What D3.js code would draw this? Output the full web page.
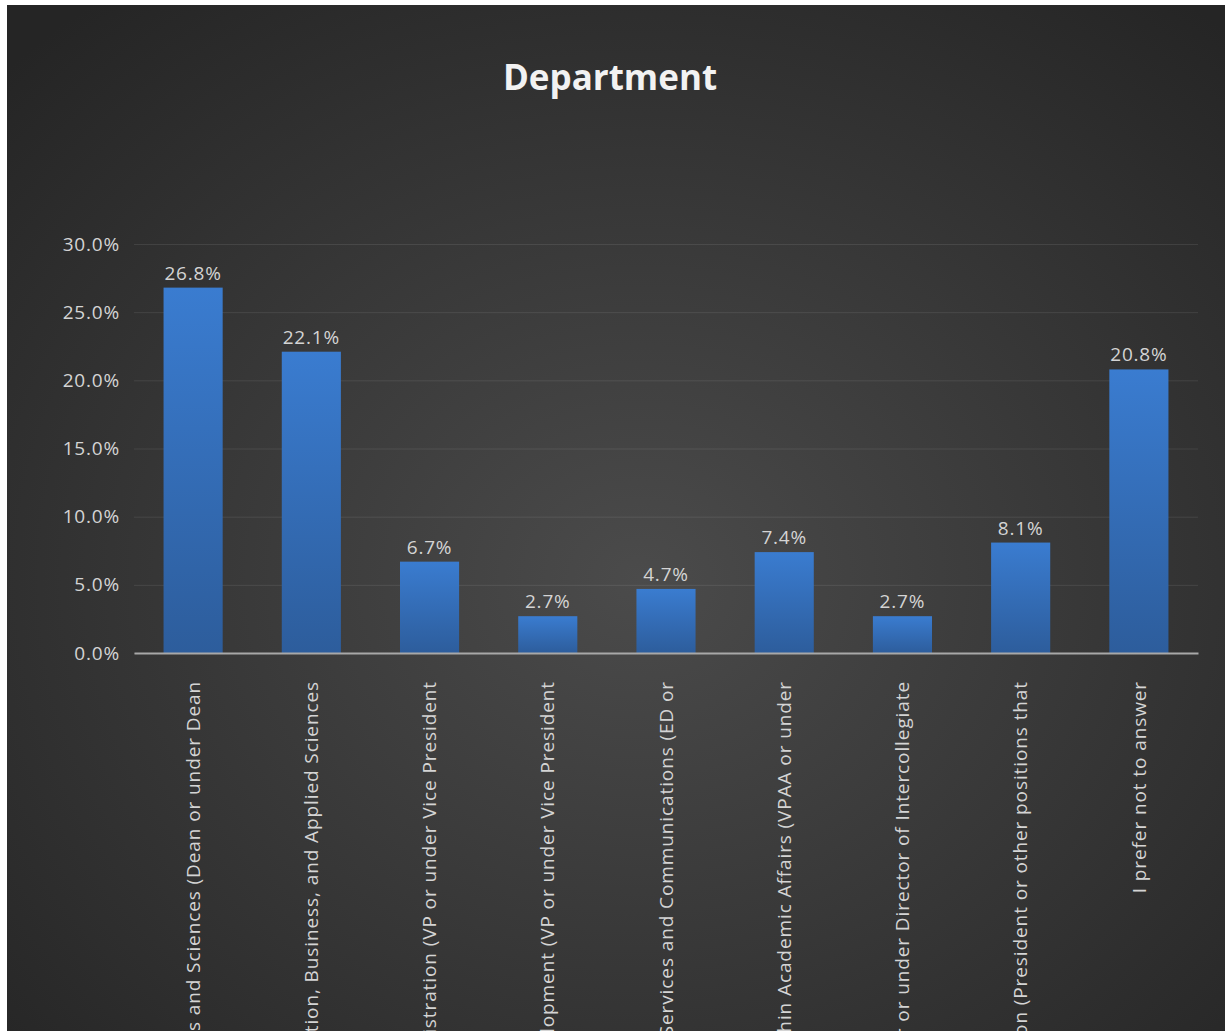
<!DOCTYPE html>
<html>
<head>
<meta charset="utf-8">
<script src="https://cdn.jsdelivr.net/npm/d3@7"></script>
<style>
  html, body { margin: 0; padding: 0; background: #ffffff; }
  svg { display: block; }
  text { font-family: "Open Sans", "Noto Sans", sans-serif; }
</style>
</head>
<body>
<svg id="chart" width="1227" height="1031"></svg>
<script>
// Survey responses by department (share of respondents)
const categories = [
  "College of Arts and Sciences (Dean or under Dean",
  "College of Education, Business, and Applied Sciences",
  "Finance and Administration (VP or under Vice President",
  "Institutional Advancement and Development (VP or under Vice President",
  "Enrollment Management, Student Services and Communications (ED or",
  "Other Offices within Academic Affairs (VPAA or under",
  "Athletics (Athletic Director or under Director of Intercollegiate",
  "Office of the President / Administration (President or other positions that",
  "I prefer not to answer"
];
const values = [26.8, 22.1, 6.7, 2.7, 4.7, 7.4, 2.7, 8.1, 20.8];
const yTicks = [0, 5, 10, 15, 20, 25, 30];

const svg = d3.select("#chart");
const defs = svg.append("defs");

// Dark radial background of the chart panel
const bg = defs.append("radialGradient").attr("id", "panelBg")
  .attr("cx", "52%").attr("cy", "56%").attr("r", "72%");
bg.append("stop").attr("offset", "0%").attr("stop-color", "#4b4b4b");
bg.append("stop").attr("offset", "100%").attr("stop-color", "#252525");

// Vertical shading of the bars
const barGrad = defs.append("linearGradient").attr("id", "barFill")
  .attr("x1", 0).attr("y1", 0).attr("x2", 0).attr("y2", 1);
barGrad.append("stop").attr("offset", "0%").attr("stop-color", "#3a7cd0");
barGrad.append("stop").attr("offset", "100%").attr("stop-color", "#2d5d9c");

svg.append("rect")
  .attr("x", 7).attr("y", 5).attr("width", 1218).attr("height", 1026)
  .attr("fill", "url(#panelBg)");

// Title
svg.append("text")
  .attr("x", 610).attr("y", 90)
  .attr("text-anchor", "middle")
  .attr("font-size", 35).attr("font-weight", 700)
  .attr("fill", "#f2f2f2")
  .text("Department");

const plot = { left: 134, right: 1198, top: 244, bottom: 653 };

const x = d3.scaleBand()
  .domain(categories)
  .range([plot.left, plot.right])
  .paddingInner(0.5)
  .paddingOuter(0.25);

const y = d3.scaleLinear()
  .domain([0, 30])
  .range([plot.bottom, plot.top]);

const labelSize = 19;
const labelSpacing = 0.8;

// Horizontal gridlines and percentage labels
const yAxis = d3.axisLeft(y)
  .tickValues(yTicks)
  .tickSize(-(plot.right - plot.left))
  .tickPadding(14)
  .tickFormat(d => d.toFixed(1) + "%");

const gy = svg.append("g")
  .attr("transform", `translate(${plot.left},0)`)
  .call(yAxis);
gy.select(".domain").remove();
gy.selectAll(".tick line")
  .attr("stroke", "#ffffff").attr("stroke-opacity", 0.09).attr("stroke-width", 1);
gy.selectAll(".tick text")
  .attr("fill", "#d4d4d4")
  .attr("font-size", labelSize)
  .attr("letter-spacing", labelSpacing)
  .attr("font-family", "\"Open Sans\", sans-serif");

// Bars
svg.append("g").selectAll("rect")
  .data(values)
  .join("rect")
  .attr("x", (d, i) => x(categories[i]))
  .attr("width", x.bandwidth())
  .attr("y", d => y(d))
  .attr("height", d => y(0) - y(d))
  .attr("fill", "url(#barFill)");

// Value labels above bars
svg.append("g").selectAll("text")
  .data(values)
  .join("text")
  .attr("x", (d, i) => x(categories[i]) + x.bandwidth() / 2)
  .attr("y", d => y(d) - 8)
  .attr("text-anchor", "middle")
  .attr("font-size", labelSize)
  .attr("letter-spacing", labelSpacing)
  .attr("fill", "#d4d4d4")
  .text(d => d.toFixed(1) + "%");

// Category axis line
const xAxis = d3.axisBottom(x).tickSize(0).tickFormat("");
const gx = svg.append("g")
  .attr("transform", `translate(0,${plot.bottom})`)
  .call(xAxis);
gx.select(".domain").attr("stroke", "#a8a8a8").attr("stroke-width", 2);

// Rotated category labels, clipped below the axis
defs.append("clipPath").attr("id", "labelClip")
  .append("rect").attr("x", 0).attr("y", 679).attr("width", 1227).attr("height", 400);

svg.append("g").attr("clip-path", "url(#labelClip)")
  .selectAll("text")
  .data(categories)
  .join("text")
  .attr("transform", d => `translate(${x(d) + x.bandwidth() / 2},681) rotate(-90)`)
  .attr("text-anchor", "end")
  .attr("dy", "0.35em")
  .attr("font-size", labelSize)
  .attr("letter-spacing", 0.9)
  .attr("fill", "#d4d4d4")
  .text(d => d);
</script>
</body>
</html>
